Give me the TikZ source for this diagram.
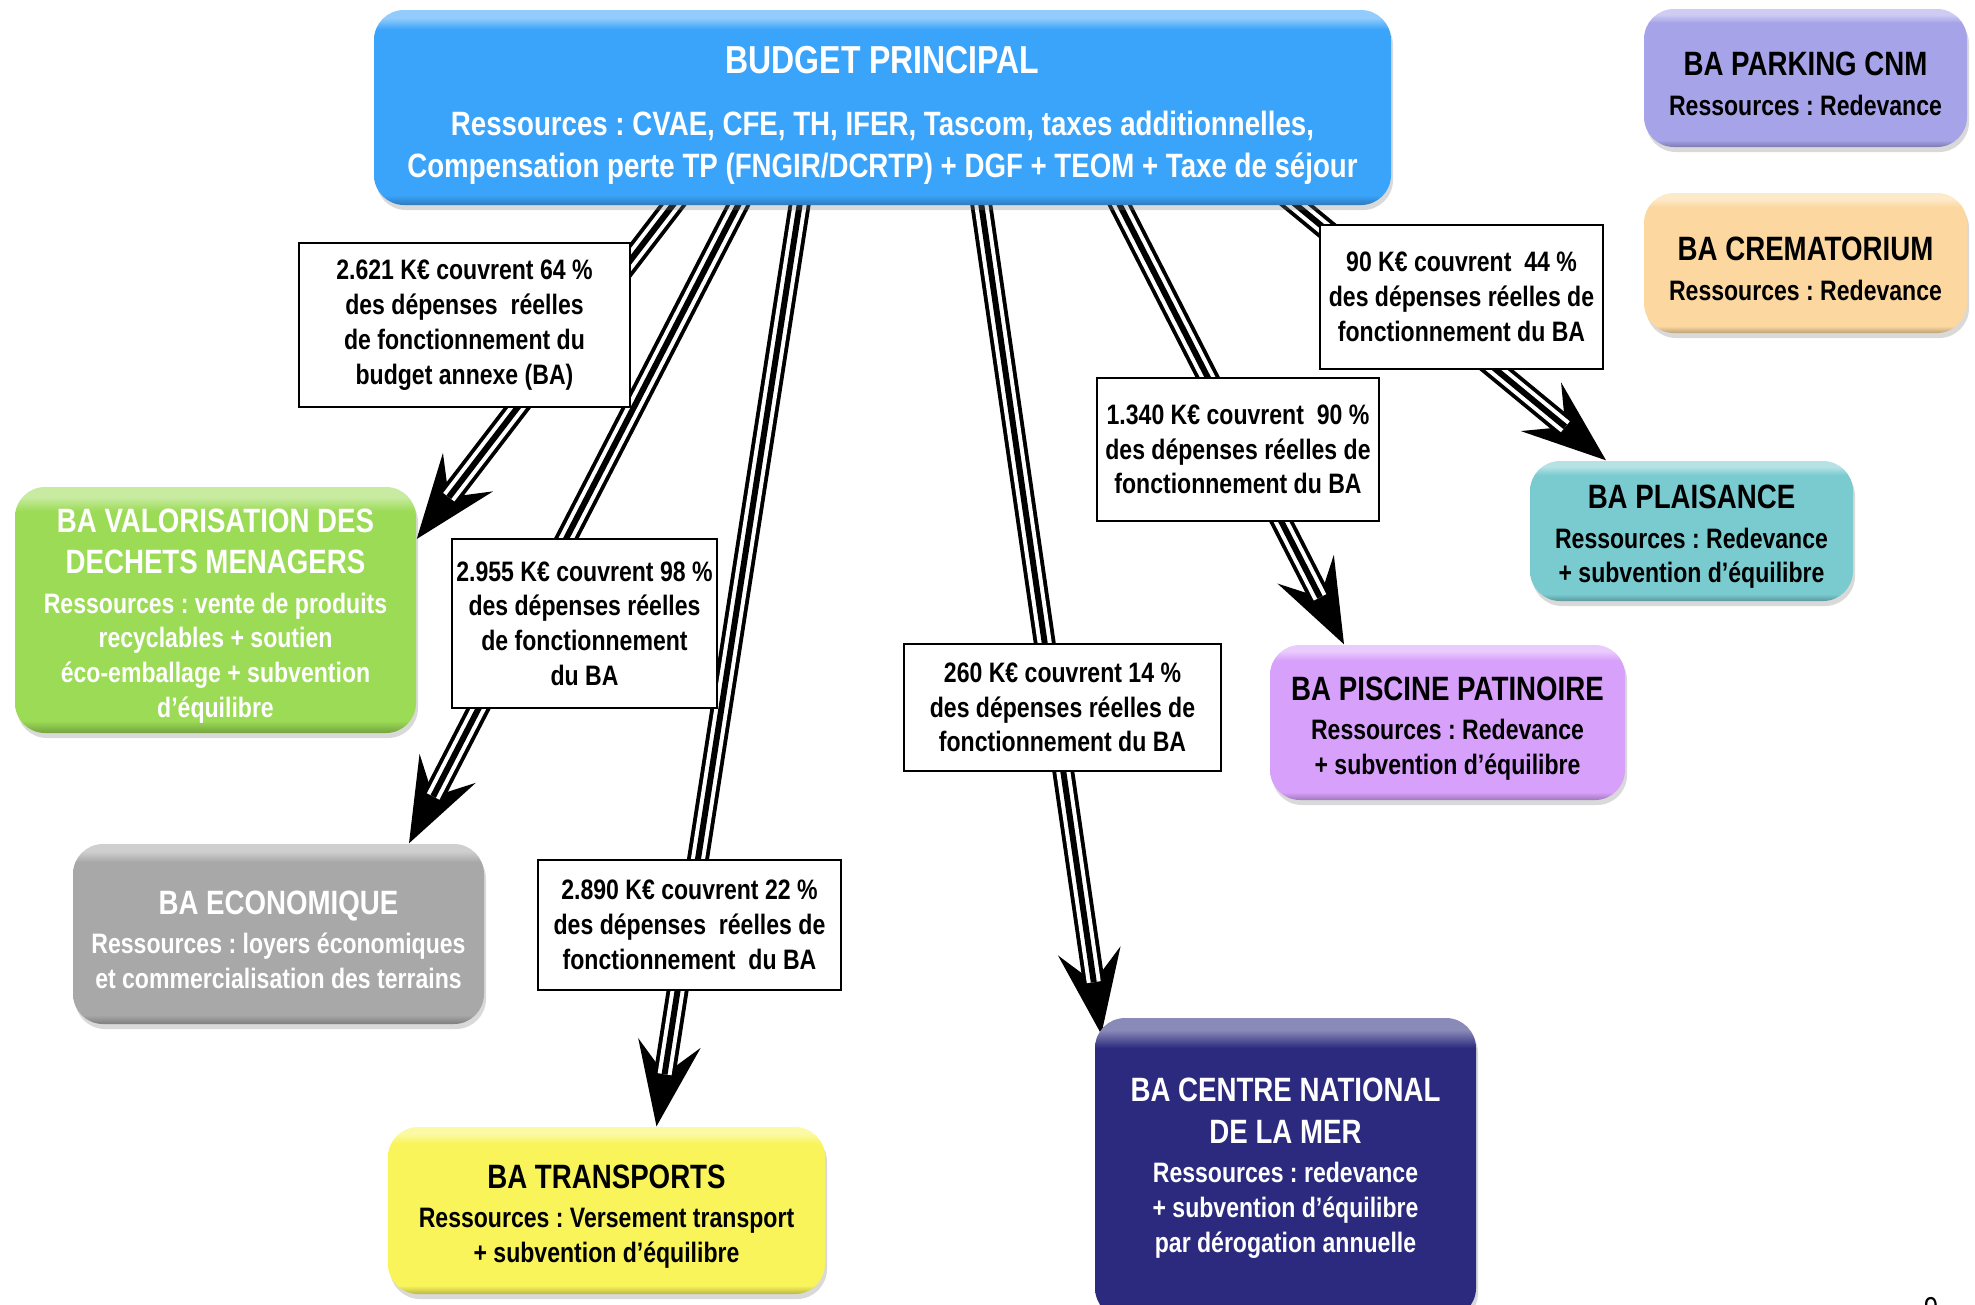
\documentclass[tikz,border=0pt]{standalone}
\usepackage{fontspec}
\setmainfont{Liberation Sans}[FakeStretch=0.82]
\usetikzlibrary{arrows.meta,shadows,backgrounds}
\frenchspacing

\definecolor{budgetblue}{RGB}{58,163,250}
\definecolor{parkinglav}{RGB}{166,163,232}
\definecolor{crempeach}{RGB}{252,216,160}
\definecolor{plaisteal}{RGB}{122,203,208}
\definecolor{piscinelil}{RGB}{215,160,250}
\definecolor{cnmnavy}{RGB}{43,42,126}
\definecolor{transyellow}{RGB}{248,244,90}
\definecolor{ecogray}{RGB}{168,168,168}
\definecolor{valogreen}{RGB}{155,219,85}

% glossy fill: light strip on top, darker rim at the bottom
\colorlet{boxc}{budgetblue}
\pgfdeclareverticalshading[boxc]{glossy}{100bp}{color(0bp)=(boxc!75!black); color(25bp)=(boxc!75!black); color(27.5bp)=(boxc); color(70bp)=(boxc); color(73bp)=(boxc!55!white); color(100bp)=(boxc!55!white)}

\newcommand{\ttl}{\fontsize{9.6}{11.8}\selectfont}
\newcommand{\bigttl}{\fontsize{11.1}{13}\selectfont}
\newcommand{\tstr}{\rule{0pt}{10.1pt}}

\begin{document}
\begin{tikzpicture}[
    font=\bfseries\fontsize{8}{9.9}\selectfont,
    babox/.style={rounded corners=0.3cm, /utils/exec={\colorlet{boxc}{#1}}, shading=glossy,
      drop shadow={shadow xshift=0.02cm, shadow yshift=-0.05cm, opacity=0.3},
      align=center, inner sep=0pt},
    note/.style={draw, fill=white, line width=0.6pt, align=center, inner sep=0pt},
    flow/.style={line width=6.2pt, -{Stealth[length=24pt, width=18pt, inset=9pt, line width=0pt]},
      postaction={draw, white, line width=4pt, arrows=-, shorten >=15pt},
      postaction={draw, black, line width=1.7pt, arrows=-, shorten >=15pt}}]
  \useasboundingbox (0,0) rectangle (19.75,-13.04);

  % main budget
  \node[babox=budgetblue, text=white, minimum width=10.17cm, minimum height=1.95cm,
    font=\bfseries\fontsize{9.6}{11.8}\selectfont] (budget) at (8.825,-1.075)
    {{\bigttl\rule{0pt}{12.1pt}BUDGET PRINCIPAL}\\[6.1pt]
     Ressources : CVAE, CFE, TH, IFER, Tascom, taxes additionnelles,\\
     Compensation perte TP (FNGIR/DCRTP) + DGF + TEOM + Taxe de séjour};

  % budgets annexes
  \node[babox=parkinglav, minimum width=3.23cm, minimum height=1.38cm] (parking) at (18.055,-0.78)
    {{\ttl\tstr BA PARKING CNM}\\[1.3pt] Ressources : Redevance};
  \node[babox=crempeach, minimum width=3.23cm, minimum height=1.40cm] (cremat) at (18.055,-2.63)
    {{\ttl\tstr BA CREMATORIUM}\\[1.3pt] Ressources : Redevance};
  \node[babox=plaisteal, minimum width=3.23cm, minimum height=1.40cm] (plais) at (16.915,-5.31)
    {{\ttl\tstr BA PLAISANCE}\\[1.3pt] Ressources : Redevance\\ + subvention d’équilibre};
  \node[babox=piscinelil, minimum width=3.55cm, minimum height=1.55cm] (pisc) at (14.475,-7.225)
    {{\ttl\tstr BA PISCINE PATINOIRE}\\[1.3pt] Ressources : Redevance\\ + subvention d’équilibre};
  \node[babox=cnmnavy, text=white, minimum width=3.81cm, minimum height=3.0cm] (cnm) at (12.855,-11.68)
    {{\ttl BA CENTRE NATIONAL}\\[1.9pt] {\ttl DE LA MER}\\[1.3pt] Ressources : redevance\\
     + subvention d’équilibre\\ par dérogation annuelle};
  \node[babox=transyellow, minimum width=4.37cm, minimum height=1.67cm] (trans) at (6.065,-12.105)
    {{\ttl\tstr BA TRANSPORTS}\\[1.3pt] Ressources : Versement transport\\ + subvention d’équilibre};
  \node[babox=ecogray, text=white, minimum width=4.11cm, minimum height=1.80cm] (eco) at (2.785,-9.34)
    {{\ttl\tstr BA ECONOMIQUE}\\[1.3pt] Ressources : loyers économiques\\ et commercialisation des terrains};
  \node[babox=valogreen, text=white, minimum width=4.01cm, minimum height=2.46cm] (valo) at (2.155,-6.10)
    {{\ttl\tstr BA VALORISATION DES}\\[1.9pt] {\ttl DECHETS MENAGERS}\\[1.3pt]
     Ressources : vente de produits\\ recyclables + soutien\\ éco-emballage + subvention\\ d’équilibre};

  % amounts on the arrows
  \node[note, minimum width=3.31cm, minimum height=1.64cm] (n-valo) at (4.645,-3.25)
    {2.621 K€ couvrent 64 \%\\ des dépenses \ réelles\\ de fonctionnement du\\ budget annexe (BA)};
  \node[note, minimum width=2.65cm, minimum height=1.69cm] (n-eco) at (5.845,-6.235)
    {2.955 K€ couvrent 98 \%\\ des dépenses réelles\\ de fonctionnement\\ du BA};
  \node[note, minimum width=3.03cm, minimum height=1.30cm] (n-trans) at (6.895,-9.25)
    {2.890 K€ couvrent 22 \%\\ des dépenses \ réelles de\\ fonctionnement \ du BA};
  \node[note, minimum width=3.17cm, minimum height=1.27cm] (n-cnm) at (10.625,-7.075)
    {260 K€ couvrent 14 \%\\ des dépenses réelles de\\ fonctionnement du BA};
  \node[note, minimum width=2.82cm, minimum height=1.43cm] (n-pisc) at (12.38,-4.495)
    {1.340 K€ couvrent \ 90 \%\\ des dépenses réelles de\\ fonctionnement du BA};
  \node[note, minimum width=2.83cm, minimum height=1.44cm] (n-plais) at (14.615,-2.97)
    {90 K€ couvrent \ 44 \%\\ des dépenses réelles de\\ fonctionnement du BA};

  % page number, cut at the bottom
  \node[anchor=north, inner sep=0pt, font=\fontsize{9}{10}\selectfont] (pagenum) at (19.31,-12.97) {9};

  % triple arrows, behind the notes
  \begin{scope}[on background layer]
    \draw[flow] ([xshift=-2.025cm, yshift=0.1cm]budget.south) -- ([yshift=0.71cm]valo.east);
    \draw[flow] ([xshift=-1.395cm, yshift=0.1cm]budget.south) -- ([xshift=1.305cm]eco.north);
    \draw[flow] ([xshift=-0.815cm, yshift=0.1cm]budget.south) -- ([xshift=0.5cm]trans.north);
    \draw[flow] ([xshift=0.975cm, yshift=0.1cm]budget.south) -- ([xshift=0.07cm, yshift=-0.17cm]cnm.north west);
    \draw[flow] ([xshift=2.325cm, yshift=0.1cm]budget.south) -- ([xshift=-1.035cm]pisc.north);
    \draw[flow] ([xshift=4.025cm, yshift=0.1cm]budget.south) -- ([xshift=-0.855cm]plais.north);
  \end{scope}
\end{tikzpicture}
\end{document}
